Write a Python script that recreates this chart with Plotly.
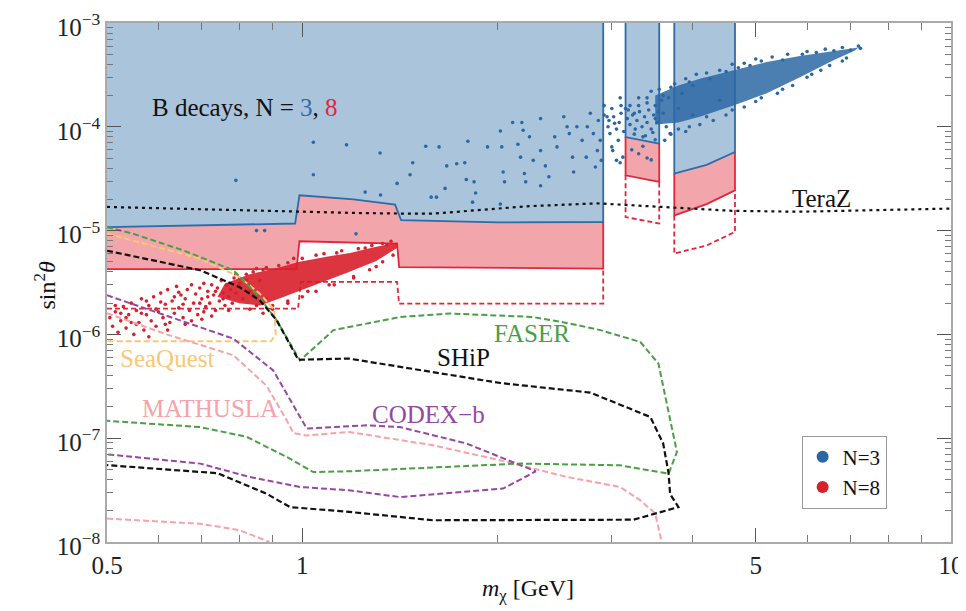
import math
import plotly.graph_objects as go

SERIF = "Liberation Serif, Times New Roman, serif"

# ---------------- axis extents / ticks ----------------
X_MIN, X_MAX = 0.5, 10.0
Y_MIN, Y_MAX = 1e-8, 1e-3
x_major = [0.5, 1, 5, 10]
x_major_text = ["0.5", "1", "5", "10"]
x_minor = [0.6, 0.7, 0.8, 0.9, 2, 3, 4, 6, 7, 8, 9]
y_major = [1e-8, 1e-7, 1e-6, 1e-5, 1e-4, 1e-3]
y_major_text = ["10<sup>−8</sup>", "10<sup>−7</sup>", "10<sup>−6</sup>",
                "10<sup>−5</sup>", "10<sup>−4</sup>", "10<sup>−3</sup>"]
y_minor = [k * 10.0 ** e for e in range(-8, -3) for k in range(2, 10)]

# ---------------- B-decay bounds, N = 3 (blue) ----------------
n3_b1_x = [0.5, 0.975, 0.99, 1.20, 1.39, 1.42, 2.0, 2.91]
n3_b1_y = [1.08e-5, 1.17e-5, 2.19e-5, 2.0e-5, 1.78e-5, 1.26e-5, 1.20e-5, 1.21e-5]
n3_b2_x = [3.15, 3.55]
n3_b2_y = [7.97e-5, 6.89e-5]
n3_b3_x = [3.745, 4.2, 4.645]
n3_b3_y = [3.54e-5, 4.3e-5, 5.72e-5]

# ---------------- B-decay bounds, N = 8 (red solid) ----------------
n8_b1_x = [0.5, 0.98, 0.99, 1.40, 1.41, 2.91]
n8_b1_y = [4.25e-6, 4.25e-6, 7.9e-6, 7.5e-6, 4.45e-6, 4.3e-6]
n8_b2_x = [3.15, 3.55]
n8_b2_y = [3.41e-5, 2.94e-5]
n8_b3_x = [3.745, 4.2, 4.645]
n8_b3_y = [1.40e-5, 1.8e-5, 2.44e-5]

# ---------------- N = 8 dashed ----------------
n8d_b1_x = [0.5, 0.985, 0.995, 1.40, 1.41, 2.91]
n8d_b1_y = [1.77e-6, 1.77e-6, 3.2e-6, 3.2e-6, 1.98e-6, 1.98e-6]
n8d_b2_x = [3.15, 3.55]
n8d_b2_y = [1.35e-5, 1.17e-5]
n8d_b3_x = [3.745, 4.2, 4.645]
n8d_b3_y = [6.0e-6, 7.2e-6, 9.7e-6]

# ---------------- TeraZ ----------------
teraz_x = [0.5, 0.78, 0.99, 1.20, 1.41, 1.60, 2.0, 2.24, 2.85, 3.65, 4.6, 5.85, 7.5, 10.0]
teraz_y = [1.69e-5, 1.57e-5, 1.51e-5, 1.48e-5, 1.46e-5, 1.46e-5, 1.63e-5, 1.72e-5,
           1.83e-5, 1.69e-5, 1.55e-5, 1.52e-5, 1.57e-5, 1.63e-5]

# ---------------- future experiments ----------------
ship_x = [0.5, 0.696, 0.80, 0.86, 0.913, 0.986, 1.18, 1.414, 2.02, 2.78, 3.44, 3.60,
          3.67, 3.69, 3.80, 3.24, 2.17, 1.59, 1.18, 0.957, 0.881, 0.74, 0.5]
ship_y = [6.4e-6, 4.15e-6, 2.86e-6, 2.13e-6, 1.37e-6, 5.7e-7, 5.85e-7, 4.85e-7, 3.4e-7,
          2.75e-7, 1.6e-7, 8.9e-8, 4.6e-8, 2.9e-8, 2.17e-8, 1.64e-8, 1.62e-8, 1.62e-8,
          1.95e-8, 2.17e-8, 2.92e-8, 4.6e-8, 5.5e-8]

faser_x = [0.5, 0.548, 0.655, 0.783, 0.85, 0.913, 0.992, 1.117, 1.414, 1.69, 2.27, 2.59,
           2.88, 3.32, 3.54, 3.78, 3.67, 3.09, 2.17, 1.18, 1.04, 0.946, 0.821, 0.696, 0.5]
faser_y = [1.08e-5, 9.35e-6, 6.46e-6, 4.15e-6, 2.47e-6, 1.37e-6, 5.6e-7, 1.10e-6, 1.47e-6,
           1.59e-6, 1.47e-6, 1.27e-6, 1.10e-6, 8.45e-7, 5.24e-7, 7.36e-8, 4.56e-8, 5.48e-8,
           5.7e-8, 4.8e-8, 4.72e-8, 6.6e-8, 1.03e-7, 1.28e-7, 1.47e-7]

codex_x = [0.5, 0.64, 0.783, 0.902, 1.016, 1.257, 1.414, 1.79, 2.29, 2.04, 1.414, 1.18,
           0.992, 0.83, 0.696, 0.5]
codex_y = [2.38e-6, 1.40e-6, 9.1e-7, 4.5e-7, 1.24e-7, 1.33e-7, 1.28e-7, 8.9e-8, 4.8e-8,
           3.27e-8, 2.71e-8, 3.15e-8, 3.39e-8, 4.23e-8, 5.69e-8, 7.0e-8]

mathusla_up_x = [0.5, 0.618, 0.783, 0.881, 0.946, 0.969, 1.016, 1.18, 1.59, 2.02, 2.56,
                 3.09, 3.32, 3.50, 3.58]
mathusla_up_y = [1.6e-6, 1.0e-6, 6.3e-7, 3.2e-7, 1.49e-7, 1.12e-7, 1.06e-7, 1.15e-7,
                 8.55e-8, 6.12e-8, 4.23e-8, 3.39e-8, 2.52e-8, 1.88e-8, 1.0e-8]
mathusla_lo_x = [0.5, 0.696, 0.80, 0.89]
mathusla_lo_y = [1.68e-8, 1.50e-8, 1.30e-8, 1.0e-8]

seaquest_x = [0.5, 0.582, 0.696, 0.80, 0.86, 0.905, 0.91, 0.895, 0.5]
seaquest_y = [9.35e-6, 7.22e-6, 5.37e-6, 3.57e-6, 2.47e-6, 1.73e-6, 1.0e-6, 8.6e-7, 8.6e-7]

# ---------------- scan points ----------------
n8_core_x = [0.76, 0.83, 0.92, 0.99, 1.09, 1.185, 1.29, 1.40, 1.40, 1.30, 1.18, 1.09,
             0.99, 0.92, 0.86, 0.80, 0.74]
n8_core_y = [3.1e-6, 3.8e-6, 4.4e-6, 5.0e-6, 5.6e-6, 6.1e-6, 6.9e-6, 7.7e-6, 6.8e-6,
             5.1e-6, 4.0e-6, 3.3e-6, 2.6e-6, 2.2e-6, 1.9e-6, 2.0e-6, 2.3e-6]
n8_pts = [
    (0.505, 1.45e-6), (0.51, 1.2e-6), (0.515, 1.65e-6), (0.52, 1.05e-6), (0.525, 1.35e-6),
    (0.53, 1.85e-6), (0.535, 1.15e-6), (0.54, 1.55e-6), (0.545, 2.0e-6), (0.55, 1.0e-6),
    (0.555, 1.7e-6), (0.56, 1.3e-6), (0.565, 2.2e-6), (0.57, 1.1e-6), (0.575, 1.55e-6),
    (0.58, 1.9e-6), (0.585, 1.35e-6), (0.59, 2.3e-6), (0.595, 1.2e-6), (0.60, 1.65e-6),
    (0.605, 2.5e-6), (0.61, 1.45e-6), (0.615, 1.95e-6), (0.62, 2.7e-6), (0.625, 1.3e-6),
    (0.63, 2.1e-6), (0.635, 1.6e-6), (0.64, 2.9e-6), (0.645, 1.8e-6), (0.65, 2.4e-6),
    (0.655, 1.45e-6), (0.66, 2.2e-6), (0.665, 2.7e-6), (0.67, 1.7e-6), (0.675, 3.0e-6),
    (0.68, 2.0e-6), (0.685, 2.45e-6), (0.69, 1.55e-6), (0.695, 2.8e-6), (0.70, 2.2e-6),
    (0.705, 3.1e-6), (0.71, 1.85e-6), (0.715, 2.6e-6), (0.72, 2.0e-6), (0.725, 3.0e-6),
    (0.73, 2.4e-6), (0.735, 1.7e-6), (0.74, 2.8e-6), (0.745, 2.1e-6), (0.75, 3.3e-6),
    (0.755, 2.5e-6), (0.76, 1.9e-6), (0.765, 3.0e-6), (0.77, 2.3e-6), (0.775, 2.7e-6),
    (0.78, 2.0e-6), (0.785, 3.5e-6), (0.79, 2.5e-6), (0.80, 3.1e-6), (0.81, 2.2e-6),
    (0.82, 3.8e-6), (0.83, 2.6e-6), (0.84, 4.0e-6), (0.85, 1.9e-6), (0.86, 3.3e-6),
    (0.87, 4.2e-6), (0.88, 2.2e-6), (0.90, 1.9e-6), (0.92, 4.6e-6), (0.95, 2.1e-6),
    (0.97, 5.4e-6), (1.02, 2.6e-6), (1.05, 5.8e-6), (1.10, 3.0e-6), (1.15, 6.4e-6),
    (1.20, 3.6e-6), (1.25, 6.8e-6), (1.30, 4.5e-6), (1.35, 7.3e-6), (1.38, 5.8e-6),
    (0.58, 9.5e-7), (0.62, 1.1e-6), (0.66, 1.25e-6), (0.70, 1.4e-6),
    (0.515, 1.9e-6), (0.535, 1.45e-6), (0.555, 1.25e-6), (0.575, 2.1e-6), (0.595, 1.75e-6),
    (0.615, 1.25e-6), (0.635, 2.3e-6), (0.655, 1.95e-6), (0.675, 1.35e-6), (0.695, 2.0e-6),
    (0.715, 2.3e-6), (0.735, 2.6e-6), (0.755, 2.2e-6), (0.725, 1.5e-6), (0.705, 1.65e-6),
    (0.645, 2.55e-6), (0.605, 2.05e-6), (0.565, 1.6e-6), (0.525, 1.6e-6), (0.545, 1.3e-6),
    (0.80, 3.5e-6), (0.82, 3.3e-6), (0.88, 4.4e-6), (0.95, 4.9e-6), (1.0, 5.4e-6),
    (1.08, 6.0e-6), (1.13, 6.1e-6), (1.22, 6.7e-6), (1.28, 7.2e-6), (1.33, 7.5e-6),
    (1.37, 7.9e-6), (0.90, 1.75e-6), (0.95, 2.0e-6), (1.0, 2.3e-6), (1.05, 2.6e-6),
    (1.12, 3.0e-6), (1.20, 3.5e-6), (1.27, 4.2e-6), (1.33, 5.0e-6), (0.77, 1.7e-6),
    (0.83, 1.75e-6), (0.87, 1.6e-6), (0.79, 3.8e-6), (0.85, 4.3e-6),
]
n3_core_x = [3.5, 3.8, 4.1, 4.62, 5.2, 5.85, 6.5, 7.0, 7.2, 7.1, 6.6, 5.85, 5.2, 4.62,
             4.1, 3.8, 3.5]
n3_core_y = [2.0e-4, 2.5e-4, 2.9e-4, 3.5e-4, 4.2e-4, 4.8e-4, 5.3e-4, 5.7e-4, 5.8e-4,
             5.4e-4, 4.4e-4, 3.0e-4, 2.1e-4, 1.6e-4, 1.25e-4, 1.1e-4, 1.05e-4]
n3_pts = [
    (0.79, 3.05e-5), (1.04, 7.1e-5), (1.04, 3.45e-5), (0.85, 1.0e-5), (0.875, 1.0e-5),
    (1.21, 9.3e-6), (1.17, 6.7e-5), (1.318, 5.6e-5), (1.25, 2.35e-5), (1.32, 2.2e-5),
    (1.40, 2.85e-5), (1.48, 4.5e-5), (1.466, 3.45e-5), (1.55, 6.5e-5), (1.625, 6.4e-5),
    (1.58, 2.1e-5), (1.61, 2.1e-5), (1.67, 4.2e-5), (1.73, 4.4e-5), (1.78, 4.5e-5),
    (1.80, 7.25e-5), (1.66, 2.55e-5), (1.79, 3.1e-5), (1.84, 2.95e-5), (1.85, 2.3e-5),
    (1.83, 1.88e-5), (1.93, 6.4e-5), (2.02, 9.1e-5), (2.03, 6.4e-5), (2.04, 3.67e-5),
    (2.05, 2.95e-5), (2.11, 1.1e-4), (2.18, 1.1e-4), (2.19, 9.25e-5), (2.15, 6.8e-5),
    (2.17, 5.1e-5), (2.20, 3.55e-5), (2.21, 2.95e-5), (2.24, 8.0e-5), (2.27, 4.75e-5),
    (2.33, 1.2e-4), (2.33, 5.9e-5), (2.37, 4.2e-5), (2.40, 3.3e-5), (2.33, 2.7e-5),
    (2.45, 8.0e-5), (2.47, 6.4e-5), (2.53, 1.25e-4), (2.56, 1.0e-4), (2.58, 8.6e-5),
    (2.61, 5.1e-5), (2.62, 3.67e-5), (2.65, 1.0e-4), (2.70, 7.4e-5), (2.74, 5.1e-5),
    (2.75, 1.0e-4), (2.78, 1.35e-4), (2.81, 8.6e-5), (2.83, 4.1e-5), (2.85, 5.9e-5),
    (2.86, 1.15e-4), (2.88, 7.4e-5), (2.89, 4.75e-5), (2.02, 1.8e-5),
    (2.95, 1.25e-4), (2.98, 8.6e-5), (3.01, 5.9e-5), (3.05, 4.75e-5), (2.96, 1.0e-4),
    (3.09, 1.9e-4), (3.10, 1.35e-4), (3.07, 7.4e-5), (3.03, 1.08e-4), (3.00, 6.4e-5),
    (3.12, 5.1e-5), (3.09, 4.5e-5), (3.58, 1.8e-4), (3.60, 1.35e-4), (3.64, 1.0e-4),
    (3.62, 7.4e-5), (3.67, 1.9e-4), (3.69, 8.6e-5), (3.22, 6.0e-5), (3.30, 5.5e-5),
    (3.40, 5.0e-5), (3.45, 4.8e-5), (3.35, 6.5e-5), (3.2, 1.6e-4), (3.3, 1.9e-4),
    (3.45, 2.2e-4), (3.6, 2.0e-4), (3.75, 2.6e-4), (3.9, 2.9e-4), (4.0, 2.5e-4),
    (4.2, 3.3e-4), (4.4, 3.5e-4), (4.6, 4.0e-4), (4.8, 4.1e-4), (5.0, 4.5e-4),
    (5.3, 4.7e-4), (5.6, 5.0e-4), (6.0, 5.3e-4), (6.4, 5.6e-4), (6.8, 5.8e-4),
    (7.2, 6.0e-4), (3.35, 8.0e-5), (3.5, 7.5e-5), (3.7, 8.5e-5), (3.9, 9.0e-5),
    (4.1, 1.05e-4), (4.3, 1.15e-4), (4.5, 1.3e-4), (4.8, 1.55e-4), (5.0, 1.75e-4),
    (5.4, 2.1e-4), (5.7, 2.5e-4), (6.1, 3.2e-4), (6.5, 3.9e-4), (6.9, 4.6e-4),
    (7.25, 5.7e-4), (4.0, 1.3e-4), (4.4, 1.8e-4), (2.92, 1.6e-4), (3.15, 1.5e-4),
    (3.5, 1.2e-4), (3.8, 1.5e-4),
    (2.92, 1.3e-4), (2.97, 1.15e-4), (3.02, 1.25e-4), (3.05, 9.5e-5), (3.08, 1.1e-4),
    (3.13, 9.0e-5), (3.17, 1.2e-4), (3.20, 1.05e-4), (3.23, 1.3e-4), (3.26, 9.5e-5),
    (3.28, 1.15e-4), (3.31, 1.4e-4), (3.34, 1.0e-4), (3.37, 1.25e-4), (3.40, 1.1e-4),
    (3.42, 1.45e-4), (3.45, 9.5e-5), (3.48, 1.3e-4), (3.50, 1.6e-4), (3.52, 1.1e-4),
    (3.54, 1.4e-4), (3.25, 8.5e-5), (3.38, 8.2e-5), (3.47, 8.8e-5), (3.18, 1.45e-4),
    (3.30, 1.6e-4), (3.40, 1.9e-4), (3.0, 1.5e-4), (3.1, 1.6e-4), (3.25, 1.35e-4),
    (3.4, 1.7e-4), (3.55, 2.3e-4), (3.7, 2.4e-4), (3.85, 2.1e-4), (3.95, 2.7e-4),
    (4.05, 3.2e-4), (4.25, 2.9e-4), (4.5, 3.4e-4), (4.7, 3.7e-4), (4.9, 3.9e-4),
    (5.1, 4.3e-4), (5.5, 4.4e-4), (5.9, 5.0e-4), (6.2, 5.2e-4), (6.6, 5.4e-4),
    (7.0, 5.5e-4), (4.2, 1.25e-4), (4.6, 1.45e-4), (5.1, 1.9e-4), (5.5, 2.3e-4),
    (6.0, 3.0e-4), (6.3, 3.5e-4), (6.8, 4.3e-4), (3.8, 9.5e-5), (3.95, 1.0e-4),
]

# ---------------- text labels ----------------
labels = [
    ("SeaQuest", 0.52, 5.9e-7, "#f9c874"),
    ("MATHUSLA", 0.562, 1.94e-7, "#f7a1a9"),
    ("CODEX−b", 1.272, 1.70e-7, "#9547a3"),
    ("FASER", 1.96, 1.03e-6, "#4a9f46"),
    ("SHiP", 1.60, 6.0e-7, "#111111"),
    ("TeraZ", 5.65, 2.05e-5, "#111111"),
]

BLUE_FILL = "#aac4dc"
RED_FILL = "#f2a6ac"
BLUE_LINE = "#2f6ba8"
RED_LINE = "#e3263a"
BLUE_PT = "#2b67a3"
RED_PT = "#d81f2b"

fig = go.Figure()


def add_line(x, y, color, width=2, dash=None):
    fig.add_trace(go.Scatter(x=x, y=y, mode="lines", showlegend=False, hoverinfo="skip",
                             line=dict(color=color, width=width, dash=dash)))


def add_fill(x, y, color, opacity=1.0):
    fig.add_trace(go.Scatter(x=x, y=y, mode="lines", fill="toself", fillcolor=color,
                             line=dict(width=0, color=color), showlegend=False,
                             opacity=opacity, hoverinfo="skip"))


bands = [
    (n3_b1_x, n3_b1_y, n8_b1_x, n8_b1_y, n8d_b1_x, n8d_b1_y, False),
    (n3_b2_x, n3_b2_y, n8_b2_x, n8_b2_y, n8d_b2_x, n8d_b2_y, True),
    (n3_b3_x, n3_b3_y, n8_b3_x, n8_b3_y, n8d_b3_x, n8d_b3_y, True),
]

# fills
for bx, by, rx, ry, dx, dy, left in bands:
    add_fill(rx + [rx[-1], rx[0]], ry + [Y_MAX, Y_MAX], RED_FILL)
for bx, by, rx, ry, dx, dy, left in bands:
    add_fill(bx + [bx[-1], bx[0]], by + [Y_MAX, Y_MAX], BLUE_FILL)

# boundary lines
for bx, by, rx, ry, dx, dy, left in bands:
    if left:
        add_line([dx[0]] + dx + [dx[-1]], [ry[0]] + dy + [ry[-1]], RED_LINE, 1.8, "5px,3px")
        add_line([rx[0]] + rx + [rx[-1]], [by[0]] + ry + [by[-1]], RED_LINE, 1.8)
        add_line([bx[0]] + bx + [bx[-1]], [Y_MAX] + by + [Y_MAX], BLUE_LINE, 1.8)
    else:
        add_line(dx + [dx[-1]], dy + [ry[-1]], RED_LINE, 1.8, "5px,3px")
        add_line(rx + [rx[-1]], ry + [by[-1]], RED_LINE, 1.8)
        add_line(bx + [bx[-1]], by + [Y_MAX], BLUE_LINE, 1.8)

# scan points
add_fill(n8_core_x, n8_core_y, RED_PT, 0.9)
fig.add_trace(go.Scatter(x=[p[0] for p in n8_pts], y=[p[1] for p in n8_pts], mode="markers",
                         marker=dict(size=3.6, color=RED_PT), showlegend=False,
                         hoverinfo="skip"))
add_fill(n3_core_x, n3_core_y, BLUE_PT, 0.85)
fig.add_trace(go.Scatter(x=[p[0] for p in n3_pts], y=[p[1] for p in n3_pts], mode="markers",
                         marker=dict(size=3.6, color=BLUE_PT), showlegend=False,
                         hoverinfo="skip"))

# experiments
DASH = "6px,3px"
add_line(seaquest_x, seaquest_y, "#f9c874", 2, DASH)
add_line(mathusla_up_x, mathusla_up_y, "#f7a1a9", 2, DASH)
add_line(mathusla_lo_x, mathusla_lo_y, "#f7a1a9", 2, DASH)
add_line(codex_x, codex_y, "#9547a3", 2, DASH)
add_line(faser_x, faser_y, "#4a9f46", 2, DASH)
add_line(ship_x, ship_y, "#111111", 2.2, DASH)
add_line(teraz_x, teraz_y, "#111111", 2.2, "3px,4px")

# legend entries
fig.add_trace(go.Scatter(x=[None], y=[None], mode="markers", name="N=3",
                         marker=dict(size=12, color=BLUE_PT)))
fig.add_trace(go.Scatter(x=[None], y=[None], mode="markers", name="N=8",
                         marker=dict(size=12, color=RED_PT)))

annotations = []
for text, lx, ly, col in labels:
    annotations.append(dict(x=math.log10(lx), y=math.log10(ly), xref="x", yref="y",
                            text=text, showarrow=False, xanchor="left", yanchor="middle",
                            font=dict(family=SERIF, size=25, color=col)))
annotations.append(dict(
    x=math.log10(0.582), y=math.log10(1.54e-4), xref="x", yref="y", showarrow=False,
    xanchor="left", yanchor="middle",
    text="B decays, N = <span style='color:%s'>3</span>, <span style='color:%s'>8</span>"
         % (BLUE_LINE, RED_LINE),
    font=dict(family=SERIF, size=25, color="#111111")))
annotations.append(dict(x=0.499, y=-0.093, xref="paper", yref="paper", showarrow=False,
                        text="<i>m</i><sub>χ</sub> [GeV]", xanchor="center", yanchor="middle",
                        font=dict(family=SERIF, size=24, color="#111111")))
annotations.append(dict(x=-0.073, y=0.495, xref="paper", yref="paper", showarrow=False,
                        text="sin<sup>2</sup><i>θ</i>", textangle=-90,
                        xanchor="center", yanchor="middle",
                        font=dict(family=SERIF, size=24, color="#111111")))

axis_common = dict(
    ticks="inside", ticklen=14, tickwidth=1.3, tickcolor="#555555",
    showline=True, linecolor="#aaaaaa", linewidth=1.5, mirror="ticks",
    showgrid=False, zeroline=False, ticklabeloverflow="allow",
    tickfont=dict(family=SERIF, size=25, color="#222222"),
)

# the page body adds an 8px offset, so the figure is 8px smaller and shifted
fig.update_layout(
    width=958, height=603,
    margin=dict(l=99, r=15, t=15, b=69, autoexpand=False),
    paper_bgcolor="white", plot_bgcolor="white",
    xaxis=dict(type="log", range=[math.log10(X_MIN), math.log10(X_MAX)],
               tickvals=x_major, ticktext=x_major_text,
               minor=dict(tickvals=x_minor, ticks="inside", ticklen=7,
                          tickcolor="#777777", showgrid=False),
               **axis_common),
    yaxis=dict(type="log", range=[math.log10(Y_MIN), math.log10(Y_MAX)],
               tickvals=y_major, ticktext=y_major_text, ticklabelshift=4,
               minor=dict(tickvals=y_minor, ticks="inside", ticklen=6,
                          tickcolor="#777777", showgrid=False),
               **axis_common),
    showlegend=True,
    legend=dict(x=0.823, y=0.205, xanchor="left", yanchor="top",
                bgcolor="white", bordercolor="#999999", borderwidth=1,
                font=dict(family=SERIF, size=21, color="#111111"),
                itemwidth=30, tracegroupgap=0),
    annotations=annotations,
)

fig.write_html("out.html")
